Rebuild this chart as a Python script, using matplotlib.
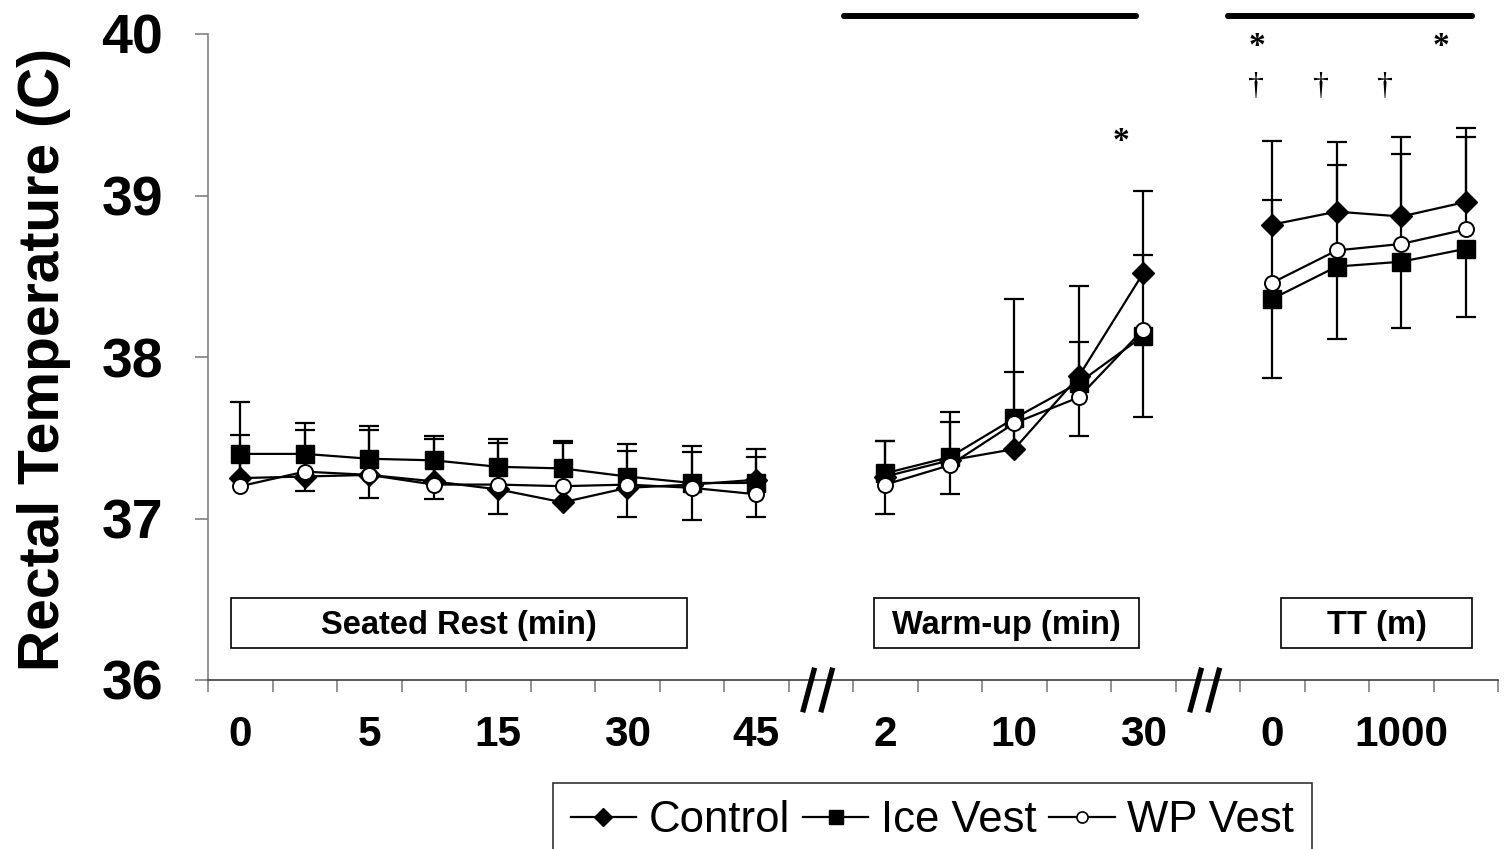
import numpy as np
import matplotlib
matplotlib.use("Agg")
import matplotlib.pyplot as plt
import matplotlib.transforms as mtransforms
from matplotlib.lines import Line2D
from matplotlib.patches import Rectangle

plt.rcParams["font.family"] = ["Liberation Sans", "DejaVu Sans"]

# ---- data -------------------------------------------------------------
# category axis: 9 seated-rest samples, gap, 5 warm-up samples, gap, 4 TT samples
tick_labels = ["0", "", "5", "", "15", "", "30", "", "45", "",
               "2", "", "10", "", "30", "",
               "0", "", "1000", ""]

rest_control = [37.25, 37.26, 37.27, 37.23, 37.18, 37.10, 37.19, 37.21, 37.24]
rest_ice = [37.40, 37.40, 37.37, 37.36, 37.32, 37.31, 37.26, 37.22, 37.22]
rest_wp = [37.20, 37.29, 37.27, 37.21, 37.21, 37.20, 37.21, 37.19, 37.15]

warm_control = [37.26, 37.36, 37.43, 37.88, 38.52]
warm_ice = [37.28, 37.38, 37.62, 37.84, 38.13]
warm_wp = [37.21, 37.33, 37.59, 37.75, 38.17]

tt_control = [38.82, 38.90, 38.87, 38.96]
tt_ice = [38.36, 38.56, 38.59, 38.67]
tt_wp = [38.46, 38.66, 38.70, 38.79]

# standard deviations (Control and WP drawn upward, Ice Vest downward)
rest_control_sd = [0.47, 0.33, 0.30, 0.28, 0.31, 0.38, 0.27, 0.24, 0.19]
rest_ice_sd = [0.15, 0.23, 0.24, 0.24, 0.29, 0.21, 0.25, 0.23, 0.21]
rest_wp_sd = [0.32, 0.26, 0.28, 0.28, 0.26, 0.27, 0.21, 0.22, 0.23]

warm_control_sd = [0.22, 0.30, 0.93, 0.56, 0.51]
warm_ice_sd = [0.25, 0.23, 0.19, 0.33, 0.50]
warm_wp_sd = [0.27, 0.27, 0.32, 0.34, 0.46]

tt_control_sd = [0.52, 0.43, 0.49, 0.46]
tt_ice_sd = [0.49, 0.45, 0.41, 0.42]
tt_wp_sd = [0.51, 0.53, 0.56, 0.57]

phase_names = ["Seated Rest (min)", "Warm-up (min)", "TT (m)"]
series_names = ["Control", "Ice Vest", "WP Vest"]

# significance markers: (x position, y)
asterisk_marks = [(13.66, 39.28), (15.77, 39.87), (18.62, 39.87)]
dagger_marks = [(15.75, 39.63), (16.76, 39.63), (17.75, 39.63)]
sig_bars = [(9.36, 13.89), (15.32, 19.10)]
sig_bar_y = 40.11


def join(rest, warm, tt):
    return np.concatenate([rest, [np.nan], warm, [np.nan], tt]).astype(float)


x = np.arange(len(tick_labels), dtype=float)
means = [join(rest_control, warm_control, tt_control),
         join(rest_ice, warm_ice, tt_ice),
         join(rest_wp, warm_wp, tt_wp)]
sds = [join(rest_control_sd, warm_control_sd, tt_control_sd),
       join(rest_ice_sd, warm_ice_sd, tt_ice_sd),
       join(rest_wp_sd, warm_wp_sd, tt_wp_sd)]
upward = [True, False, True]

styles = [dict(marker="D", ms=10.8, mfc="black", mec="black", mew=1.0),
          dict(marker="s", ms=13.5, mfc="black", mec="black", mew=1.0),
          dict(marker="o", ms=10.8, mfc="white", mec="black", mew=1.4)]
legend_styles = [dict(marker="D", ms=9.5, mfc="black", mec="black", mew=1.0),
                 dict(marker="s", ms=10.5, mfc="black", mec="black", mew=1.0),
                 dict(marker="o", ms=8, mfc="white", mec="black", mew=1.2)]

# ---- figure -----------------------------------------------------------
W, H = 1512, 849
fig = plt.figure(figsize=(W / 100, H / 100), dpi=100)
ax = fig.add_axes([208 / W, 1 - 680 / H, 1290 / W, 646 / H])
ax.set_xlim(-0.5, len(tick_labels) - 0.5)
ax.set_ylim(36, 40)

for m, s, up in zip(means, sds, upward):
    ok = ~np.isnan(m)
    zero = np.zeros(ok.sum())
    yerr = [zero, s[ok]] if up else [s[ok], zero]
    eb = ax.errorbar(x[ok], m[ok], yerr=yerr, fmt="none", ecolor="black",
                     elinewidth=1.6, capsize=7, capthick=1.6, zorder=2)
    # one-sided bars: hide the cap sitting on the mean
    eb[1][0 if up else 1].set_visible(False)

for m, st in zip(means, styles):
    ax.plot(x, m, color="black", lw=1.6, zorder=3, **st)

# axes styling
for side in ("top", "right"):
    ax.spines[side].set_visible(False)
ax.spines["left"].set_color("#808080")
ax.spines["bottom"].set_color("#404040")
ax.spines["left"].set_linewidth(1.2)
ax.spines["bottom"].set_linewidth(1.2)

ax.set_yticks([36, 37, 38, 39, 40])
ax.set_yticklabels(["36", "37", "38", "39", "40"], fontsize=40, fontweight="bold")
ax.tick_params(axis="y", direction="out", length=9.4, width=1.2, color="#808080", pad=23)

ax.set_xticks(x)
ax.set_xticklabels(tick_labels, fontsize=30.5, fontweight="bold")
ax.set_xticks(np.arange(-0.5, len(tick_labels), 1.0), minor=True)
ax.tick_params(axis="x", which="major", length=0, pad=25)
ax.tick_params(axis="x", which="minor", direction="out", length=8.6, width=1.2, color="#808080")

ax.set_ylabel("Rectal Temperature (C)", fontsize=41, fontweight="bold")
ax.yaxis.label.set_verticalalignment("center")
ax.yaxis.set_label_coords(-0.1275, 0.497)

# phase label boxes
phase_boxes = [(-0.14, 6.93), (9.83, 13.94), (16.14, 19.10)]
for name, (x0, x1) in zip(phase_names, phase_boxes):
    ax.add_patch(Rectangle((x0, 36.198), x1 - x0, 0.31, facecolor="white",
                           edgecolor="black", lw=1.2, zorder=1))
    ax.text((x0 + x1) / 2, 36.338, name, ha="center", va="center",
            fontsize=23.5, fontweight="bold", zorder=4)

# axis break marks
blend = mtransforms.blended_transform_factory(ax.transData, ax.transAxes)
for gap in (9, 15):
    for dx in (-0.09, 0.19):
        ax.plot([gap + dx - 0.005, gap + dx - 0.19], [0.019, -0.05], transform=blend,
                color="black", lw=3.8, solid_capstyle="butt", clip_on=False, zorder=5)

# significance bars and symbols
for x0, x1 in sig_bars:
    ax.plot([x0, x1], [sig_bar_y, sig_bar_y], color="black", lw=4.3,
            solid_capstyle="round", clip_on=False, zorder=5)
for xp, yp in asterisk_marks:
    ax.text(xp, yp, "*", ha="center", va="baseline", fontsize=24, fontweight="bold",
            family=["Liberation Serif", "DejaVu Serif"], clip_on=False)
for xp, yp in dagger_marks:
    ax.text(xp, yp, "\u2020", ha="center", va="baseline", fontsize=23,
            family=["Liberation Serif", "DejaVu Serif"], clip_on=False)

# legend
handles = [Line2D([], [], color="black", lw=1.6, **st) for st in legend_styles]
leg = fig.legend(handles, series_names, loc="upper left",
                 bbox_to_anchor=(553 / W, 1 - 783 / H), ncol=3, fontsize=31.5,
                 frameon=True, fancybox=False, edgecolor="black",
                 handlelength=1.5, handletextpad=0.28, columnspacing=0.3,
                 borderpad=0.4, borderaxespad=0)
leg.get_frame().set_linewidth(1.2)

fig.savefig("out.png", dpi=100, facecolor="white")
